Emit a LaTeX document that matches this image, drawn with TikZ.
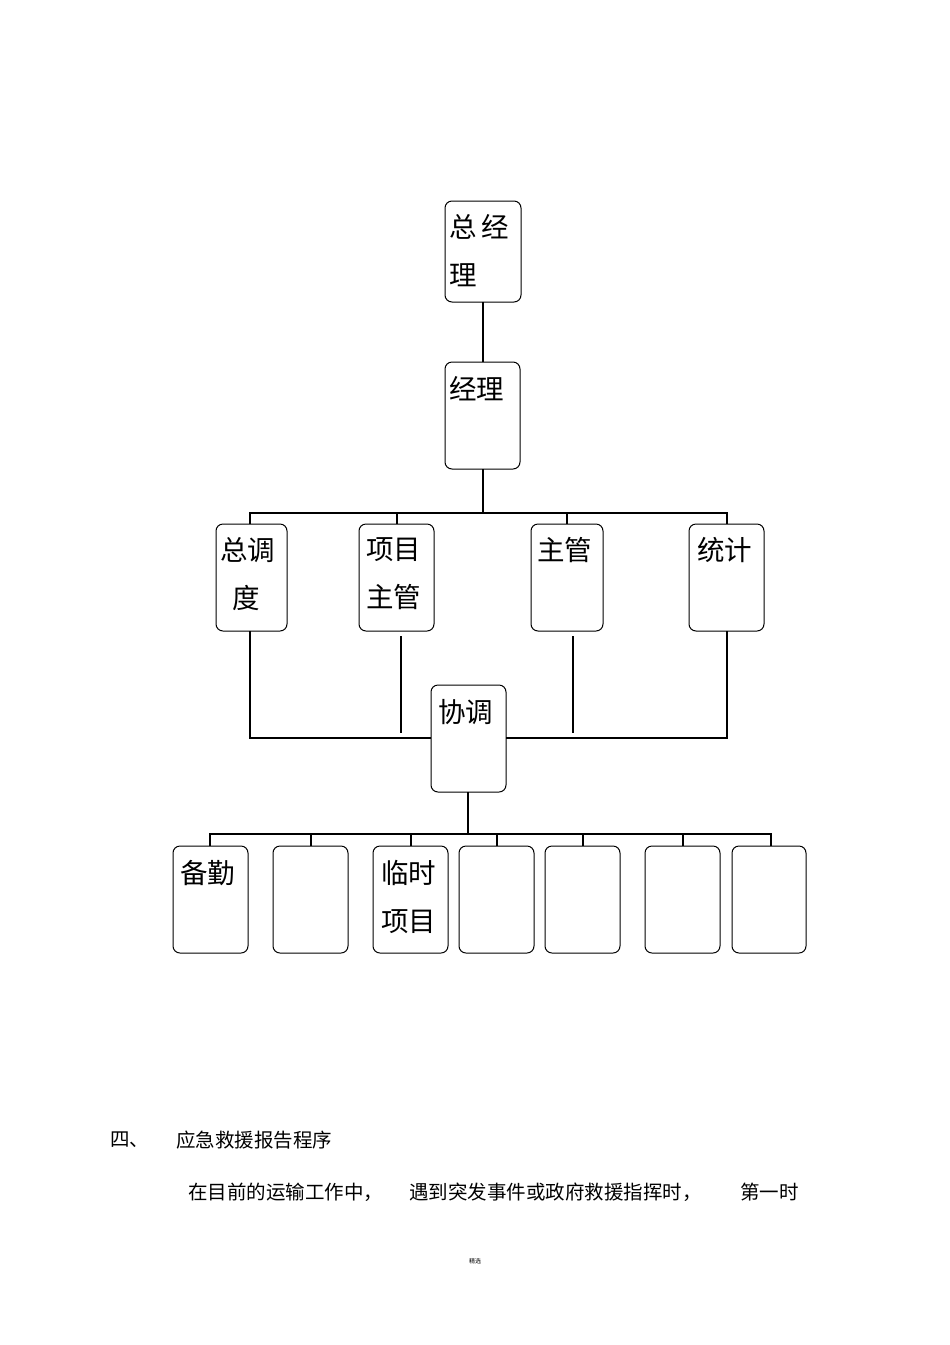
\documentclass[tikz,border=0pt]{standalone}
\usepackage{fontspec}
\newfontfamily\cjk{Noto Sans CJK SC}
\begin{document}
\begin{tikzpicture}[x=1pt,y=-1pt,
  box/.style={draw,rounded corners=7pt,line width=1pt},
  lbl/.style={anchor=north west,font=\cjk\fontsize{27.5}{48}\selectfont,align=left,inner sep=0pt},
  ln/.style={line width=2.8pt},
  txt/.style={anchor=west,font=\cjk\fontsize{19.5}{22}\selectfont,inner sep=0pt}]
\useasboundingbox (0,0) rectangle (950,1345);
\newcommand\bx[5]{\draw[box] (#1,#2) rectangle (#3,#4); \coordinate (#5) at ({(#1+#3)/2},#2);}
\bx{445}{201}{521}{302}{a}
\bx{445}{362}{520}{469}{b}
\bx{216}{524}{287}{631}{c1}
\bx{359}{524}{434}{631}{c2}
\bx{531}{524}{603}{631}{c3}
\bx{689}{524}{764}{631}{c4}
\bx{431}{685}{506}{792}{d}
\bx{173}{846}{248}{953}{e1}
\bx{273}{846}{348}{953}{e2}
\bx{373}{846}{448}{953}{e3}
\bx{459}{846}{534}{953}{e4}
\bx{545}{846}{620}{953}{e5}
\bx{645}{846}{720}{953}{e6}
\bx{732}{846}{806}{953}{e7}
\node[lbl] at (449,214) {总\,经\\理};
\node[lbl] at (449,376) {经理};
\node[lbl] at (220,537) {总调\\\ \ 度};
\node[lbl] at (366,537) {项目\\主管};
\node[lbl] at (537,537) {主管};
\node[lbl] at (697,537) {统计};
\node[lbl] at (438,699) {协调};
\node[lbl] at (180,860) {备勤};
\node[lbl] at (381,860) {临时\\项目};
\draw[ln] (483,302) -- (483,362);
\draw[ln] (483,469) -- (483,513);
\draw[ln] (250,524) -- (250,513) -- (727,513) -- (727,524);
\draw[ln] (397,513) -- (397,524); \draw[ln] (567,513) -- (567,524);
\draw[ln] (250,631) -- (250,738) -- (431,738);
\draw[ln] (727,631) -- (727,738) -- (506,738);
\draw[ln] (401,636) -- (401,733);
\draw[ln] (573,636) -- (573,733);
\draw[ln] (468,792) -- (468,834);
\draw[ln] (210,846) -- (210,834) -- (771,834) -- (771,846);
\foreach \x in {311,411,497,583,683} \draw[ln] (\x,834) -- (\x,846);
\node[txt] at (110,1140) {四、};
\node[txt] at (176,1140) {应急救援报告程序};
\node[txt] at (188,1192) {在目前的运输工作中，};
\node[txt] at (409,1192) {遇到突发事件或政府救援指挥时，};
\node[txt] at (740,1192) {第一时};
\node[font=\cjk\fontsize{6}{7}\selectfont] at (475,1261) {精选};
\end{tikzpicture}
\end{document}
